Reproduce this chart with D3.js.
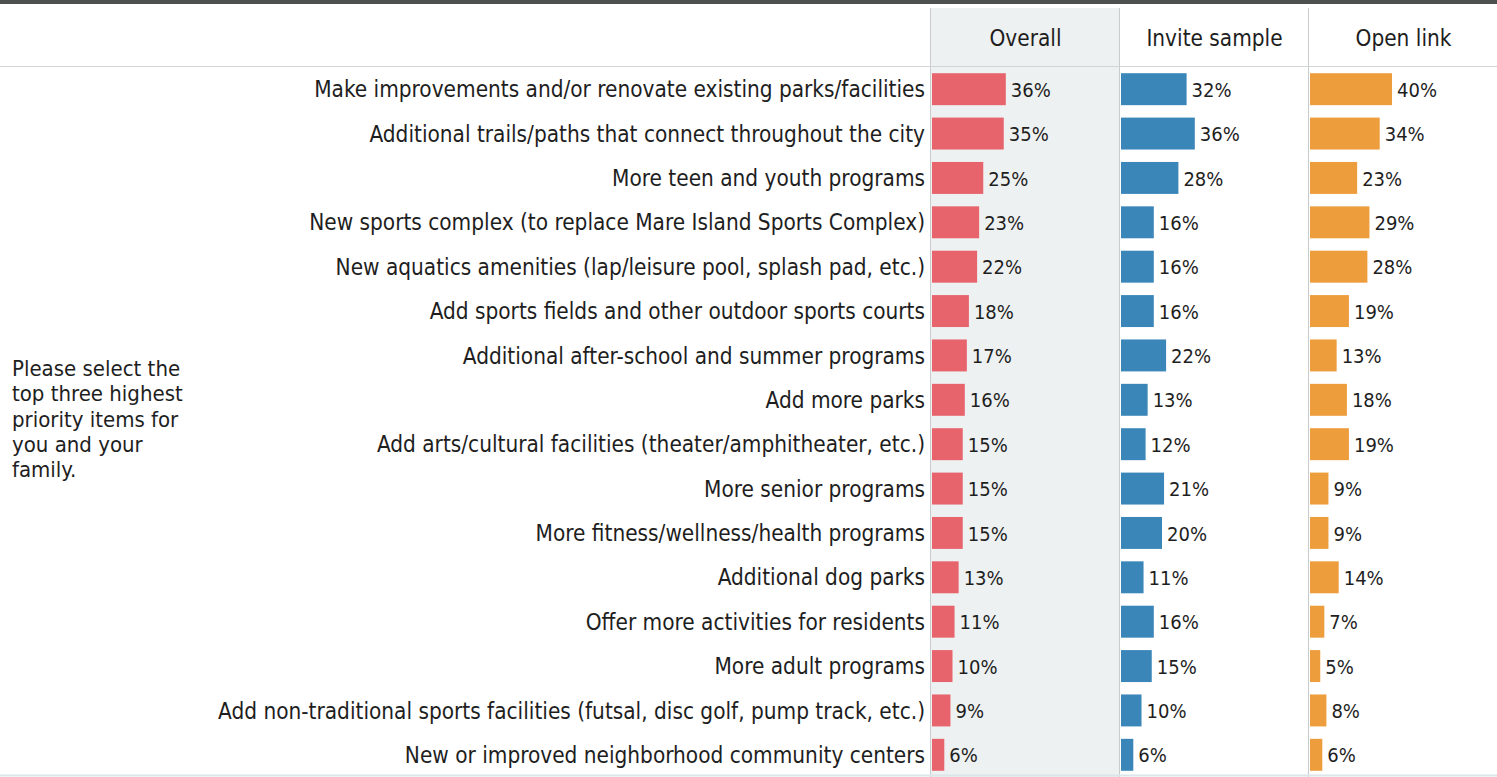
<!DOCTYPE html>
<html>
<head>
<meta charset="utf-8">
<style>
  body {margin: 0; background: #fff; font-family: "DejaVu Sans Condensed", "DejaVu Sans", sans-serif;}
</style>
<script src="https://d3js.org/d3.v7.min.js"></script>
</head>
<body>
  <div id="chart"></div>
  <script>

  const width = 1497
  const height = 777
  const fontSize = "22.4px"
  const valueSize = "20px"

  const items = [
    "Make improvements and/or renovate existing parks/facilities",
    "Additional trails/paths that connect throughout the city",
    "More teen and youth programs",
    "New sports complex (to replace Mare Island Sports Complex)",
    "New aquatics amenities (lap/leisure pool, splash pad, etc.)",
    "Add sports fields and other outdoor sports courts",
    "Additional after-school and summer programs",
    "Add more parks",
    "Add arts/cultural facilities (theater/amphitheater, etc.)",
    "More senior programs",
    "More fitness/wellness/health programs",
    "Additional dog parks",
    "Offer more activities for residents",
    "More adult programs",
    "Add non-traditional sports facilities (futsal, disc golf, pump track, etc.)",
    "New or improved neighborhood community centers"
  ]

  const overall = [36, 35, 25, 23, 22, 18, 17, 16, 15, 15, 15, 13, 11, 10, 9, 6]
  const invite  = [32, 36, 28, 16, 16, 16, 22, 13, 12, 21, 20, 11, 16, 15, 10, 6]
  const openLink = [40, 34, 23, 29, 28, 19, 13, 18, 19, 9, 9, 14, 7, 5, 8, 6]

  const groups = ["Overall", "Invite sample", "Open link"]
  const groupColors = ["#e8646d", "#3b86b9", "#ee9d3d"]
  const question = ["Please select the", "top three highest", "priority items for", "you and your", "family."]

  const series = [overall, invite, openLink]

  const svg = d3.select("#chart").append("svg")
    .attr("width", width)
    .attr("height", height)

  // top dark band
  svg.append("rect")
    .attr("x", 0).attr("y", 0)
    .attr("width", width).attr("height", 4)
    .attr("fill", "#4d504f")

  // column positions
  const colX = d3.scaleOrdinal().domain(groups).range([931, 1120, 1309])
  const colW = 189

  // gray panel behind Overall
  svg.append("rect")
    .attr("x", colX("Overall")).attr("y", 8)
    .attr("width", colW).attr("height", height - 8)
    .attr("fill", "#eef1f1")

  // column separators
  groups.forEach(g => {
    svg.append("line")
      .attr("x1", colX(g) - 0.5).attr("x2", colX(g) - 0.5)
      .attr("y1", 8).attr("y2", height)
      .attr("stroke", "#c9cccc")
      .attr("stroke-width", 1)
  })

  // header separator
  svg.append("line")
    .attr("x1", 0).attr("x2", width)
    .attr("y1", 66.5).attr("y2", 66.5)
    .attr("stroke", "#d2d5d5")

  // bottom line
  svg.append("line")
    .attr("x1", 0).attr("x2", width)
    .attr("y1", 775.5).attr("y2", 775.5)
    .attr("stroke", "#dbe6ea")
    .attr("stroke-width", 2)

  // headers
  svg.append("g").selectAll("text")
    .data(groups)
    .enter().append("text")
      .attr("x", d => colX(d) + colW / 2)
      .attr("y", 46)
      .attr("text-anchor", "middle")
      .style("font-size", fontSize)
      .style("fill", "#1e1e1e")
      .text(d => d)

  const y = d3.scaleBand()
    .domain(items)
    .range([67, 777])
    .paddingInner(0.28)
    .paddingOuter(0.14)

  const x = d3.scaleLinear().domain([0, 40]).range([0, 82])

  // row labels
  svg.append("g").selectAll("text")
    .data(items)
    .enter().append("text")
      .attr("x", 925)
      .attr("y", d => y(d) + y.bandwidth() / 2)
      .attr("dy", "0.36em")
      .attr("text-anchor", "end")
      .style("font-size", fontSize)
      .style("fill", "#1e1e1e")
      .text(d => d)

  // bars + values per group
  groups.forEach((g, gi) => {
    const vals = series[gi]
    const gg = svg.append("g").attr("transform", "translate(" + (colX(g) + 1) + ",0)")

    gg.selectAll("rect")
      .data(vals)
      .enter().append("rect")
        .attr("x", 0)
        .attr("y", (d, i) => y(items[i]))
        .attr("width", d => x(d))
        .attr("height", y.bandwidth())
        .attr("fill", groupColors[gi])

    gg.selectAll("text")
      .data(vals)
      .enter().append("text")
        .attr("x", d => x(d) + 5)
        .attr("y", (d, i) => y(items[i]) + y.bandwidth() / 2)
        .attr("dy", "0.38em")
        .style("font-size", valueSize)
        .style("fill", "#1e1e1e")
        .text(d => d + "%")
  })

  // question text
  svg.append("text")
    .attr("x", 12)
    .attr("y", 376)
    .style("font-size", "22px")
    .style("fill", "#1e1e1e")
    .selectAll("tspan")
    .data(question)
    .enter().append("tspan")
      .attr("x", 12)
      .attr("dy", (d, i) => i === 0 ? 0 : 25.3)
      .text(d => d)

  </script>
</body>
</html>
